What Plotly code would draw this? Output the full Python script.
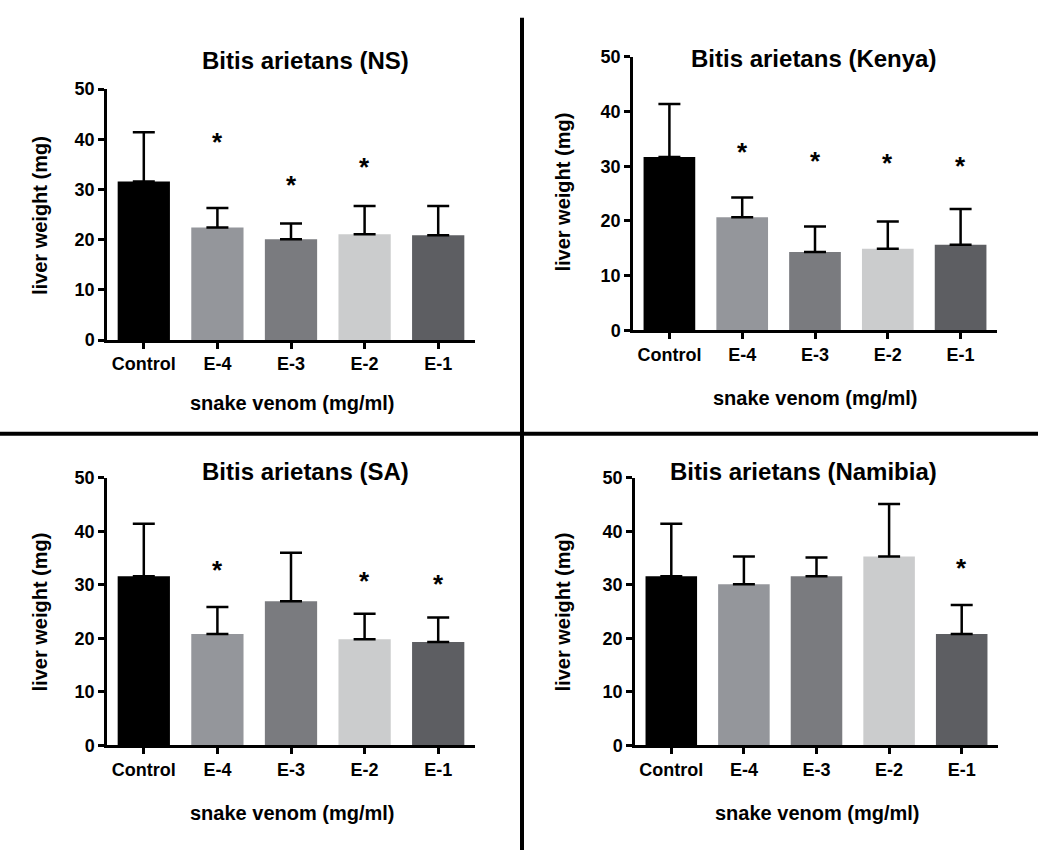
import plotly.graph_objects as go

W, H = 1038, 850

categories = ["Control", "E-4", "E-3", "E-2", "E-1"]
bar_colors = ["#000000", "#94969b", "#7a7b7f", "#cbcccd", "#5d5e62"]

titles = ["Bitis arietans (NS)", "Bitis arietans (Kenya)",
          "Bitis arietans (SA)", "Bitis arietans (Namibia)"]

ns_mean = [31.6, 22.4, 20.1, 21.1, 20.9]
ns_sd = [9.8, 3.9, 3.1, 5.6, 5.8]
kenya_mean = [31.7, 20.65, 14.3, 14.9, 15.65]
kenya_sd = [9.7, 3.65, 4.7, 5.0, 6.55]
sa_mean = [31.6, 20.8, 26.9, 19.8, 19.3]
sa_sd = [9.8, 5.05, 9.1, 4.8, 4.6]
namibia_mean = [31.6, 30.1, 31.6, 35.3, 20.8]
namibia_sd = [9.8, 5.2, 3.5, 9.8, 5.4]

ns_star_x = ["E-4", "E-3", "E-2"]
ns_star_y = [38.8, 30.2, 33.9]
kenya_star_x = ["E-4", "E-3", "E-2", "E-1"]
kenya_star_y = [32.1, 30.4, 30.1, 29.5]
sa_star_x = ["E-4", "E-2", "E-1"]
sa_star_y = [32.2, 30.1, 29.5]
namibia_star_x = ["E-1"]
namibia_star_y = [32.5]

y_ticks = [0, 10, 20, 30, 40, 50]
x_title = "snake venom (mg/ml)"
y_title = "liver weight (mg)"

means = [ns_mean, kenya_mean, sa_mean, namibia_mean]
sds = [ns_sd, kenya_sd, sa_sd, namibia_sd]
stars = [(ns_star_x, ns_star_y), (kenya_star_x, kenya_star_y),
         (sa_star_x, sa_star_y), (namibia_star_x, namibia_star_y)]

# pixel layout of each panel: (x_left, x_right, y_top(50), y_bottom(0))
panels = [(107, 475, 81, 338), (633, 997, 48, 328),
          (107, 475, 479, 753), (635, 998, 479, 753)]
title_pos = [(305, 52), (813, 50), (305, 473), (803, 473)]
ytitle_pos = [(40, 211), (563, 187), (40, 617), (563, 617)]
xtitle_pos = [(292, 402), (815, 397), (292, 822), (817, 822)]

FONT = "Liberation Sans, Arial, sans-serif"

fig = go.Figure()
layout = dict(width=W, height=H, margin=dict(l=0, r=0, t=0, b=0),
              paper_bgcolor="white", plot_bgcolor="white", showlegend=False,
              font=dict(family=FONT, color="black", weight="bold"))
annotations = []

for i in range(4):
    n = i + 1
    xa = "x" if n == 1 else f"x{n}"
    ya = "y" if n == 1 else f"y{n}"
    xl, xr, yt, yb = panels[i]
    fig.add_trace(go.Bar(
        x=categories, y=means[i], xaxis=xa, yaxis=ya, width=0.71,
        marker=dict(color=bar_colors, line=dict(width=0)),
        error_y=dict(type="data", array=sds[i], arrayminus=[0] * 5,
                     symmetric=False, color="black", thickness=2.5, width=11),
    ))
    sx, sy = stars[i]
    for xv, yv in zip(sx, sy):
        annotations.append(dict(x=xv, y=yv, xref=xa, yref=ya, text="*",
                                showarrow=False, yshift=3,
                                xanchor="center", yanchor="middle",
                                font=dict(size=26, family=FONT, color="black", weight="bold")))
    layout[f"xaxis{n if n > 1 else ''}"] = dict(
        domain=[xl / W, xr / W], anchor=ya, range=[-0.5, 4.5], type="category",
        showline=True, linecolor="black", linewidth=2.5, ticks="outside",
        ticklen=6, tickwidth=2.5, tickcolor="black", showgrid=False,
        tickfont=dict(size=18, family=FONT, color="black", weight="bold"),
        fixedrange=True)
    layout[f"yaxis{n if n > 1 else ''}"] = dict(
        domain=[1 - yb / H, 1 - yt / H], anchor=xa, range=[0, 50],
        tickvals=y_ticks, showline=True, linecolor="black", linewidth=2.5,
        ticks="outside", ticklen=6, tickwidth=2.5, tickcolor="black",
        showgrid=False, zeroline=False,
        tickfont=dict(size=18, family=FONT, color="black", weight="bold"),
        fixedrange=True)
    tx, ty = title_pos[i]
    annotations.append(dict(x=tx / W, y=1 - ty / H, xref="paper", yref="paper",
                            text=titles[i], showarrow=False,
                            xanchor="center", yanchor="middle",
                            font=dict(size=24, family=FONT, color="black", weight="bold")))
    yx, yy = ytitle_pos[i]
    annotations.append(dict(x=yx / W, y=1 - yy / H, xref="paper", yref="paper",
                            text=y_title, showarrow=False, textangle=-90,
                            xanchor="center", yanchor="middle",
                            font=dict(size=20, family=FONT, color="black", weight="bold")))
    xx, xy = xtitle_pos[i]
    annotations.append(dict(x=xx / W, y=1 - xy / H, xref="paper", yref="paper",
                            text=x_title, showarrow=False,
                            xanchor="center", yanchor="middle",
                            font=dict(size=20, family=FONT, color="black", weight="bold")))

layout["annotations"] = annotations
layout["shapes"] = [
    dict(type="line", xref="paper", yref="paper", x0=522 / W, x1=522 / W,
         y0=-0.05, y1=1 - 8 / H, line=dict(color="black", width=4)),
    dict(type="line", xref="paper", yref="paper", x0=0, x1=1, y0=1 - 434 / H, y1=1 - 434 / H,
         line=dict(color="black", width=4)),
]
fig.update_layout(**layout)
fig.write_html("out.html", config={"displayModeBar": False},
               post_script="document.body.style.margin='0px';document.body.style.overflow='hidden';")
